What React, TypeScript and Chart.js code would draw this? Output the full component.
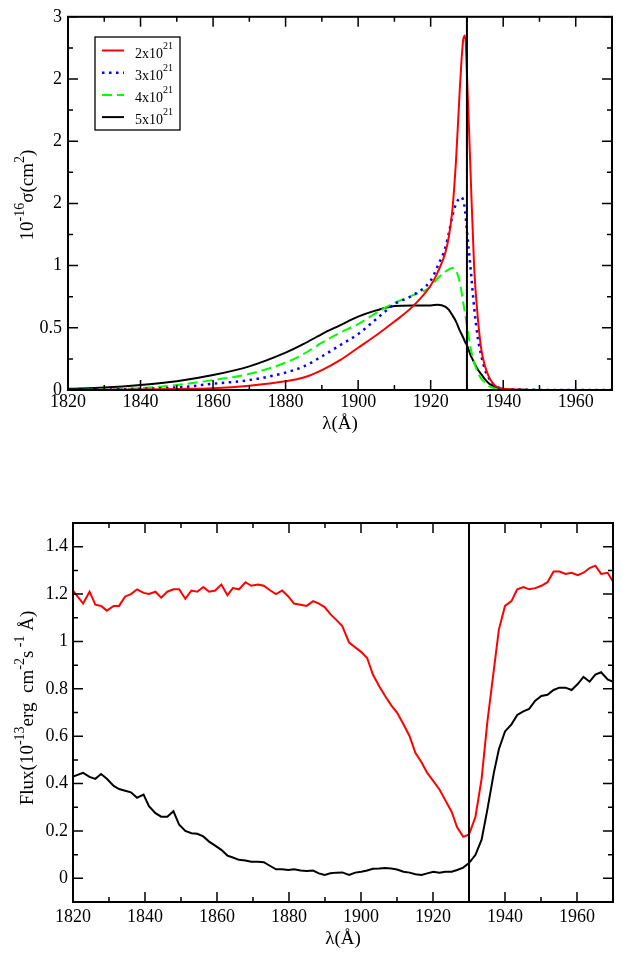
import { useEffect, useRef } from "react"
import { Chart, registerables } from "chart.js"

Chart.register(...registerables)

const SERIF = "'Liberation Serif', 'DejaVu Serif', serif"

// ---- top panel: cross section, 10^-16 cm^2 ----
const sigmaWavelength = [
  1820, 1830, 1840, 1850, 1860, 1870, 1880, 1885, 1890, 1895, 1900, 1905, 1910,
  1915, 1920, 1922, 1924, 1925, 1926, 1927, 1928, 1928.5, 1929, 1929.5, 1930,
  1931, 1932, 1933, 1934, 1935, 1936, 1937, 1938, 1940, 1945, 1950, 1960, 1970,
]
const sigma2e21 = [
  0, 0.002, 0.004, 0.008, 0.015, 0.035, 0.07, 0.1, 0.16, 0.24, 0.34, 0.44, 0.55,
  0.67, 0.84, 0.95, 1.1, 1.23, 1.45, 1.85, 2.4, 2.65, 2.82, 2.85, 2.55,
  1.75, 0.98, 0.58, 0.32, 0.19, 0.11, 0.06, 0.03, 0.01, 0.002, 0, 0, 0,
]
const sigma3e21 = [
  0, 0.003, 0.01, 0.02, 0.05, 0.08, 0.14, 0.19, 0.27, 0.36, 0.45, 0.57, 0.69,
  0.76, 0.88, 1.0, 1.14, 1.26, 1.4, 1.5, 1.54, 1.55, 1.52, 1.44, 1.28,
  0.98, 0.66, 0.42, 0.27, 0.16, 0.1, 0.05, 0.03, 0.01, 0.003, 0.001, 0, 0,
]
const sigma4e21 = [
  0, 0.005, 0.015, 0.04, 0.08, 0.13, 0.22, 0.29, 0.38, 0.46, 0.53, 0.62, 0.7,
  0.76, 0.83, 0.9, 0.95, 0.97, 0.98, 0.96, 0.87, 0.79, 0.7, 0.61, 0.52,
  0.34, 0.22, 0.14, 0.09, 0.06, 0.03, 0.02, 0.01, 0.005, 0.002, 0.001, 0, 0,
]
const sigma5e21 = [
  0.01, 0.02, 0.04, 0.07, 0.12, 0.19, 0.3, 0.37, 0.45, 0.52, 0.59, 0.64, 0.675,
  0.68, 0.68, 0.685, 0.67, 0.645, 0.6, 0.55, 0.48, 0.45, 0.42, 0.385, 0.36,
  0.28, 0.22, 0.165, 0.125, 0.085, 0.055, 0.035, 0.018, 0.008, 0.002, 0, 0, 0,
]
const columnLabels = ["2x10", "3x10", "4x10", "5x10"]
const columnExponent = "21"

const sigmaYTicks = [0, 0.5, 1, 1.5, 2, 2.5, 3]
const sigmaYTickLabels = ["0", "0.5", "1", "2", "2", "2", "3"]
const sigmaYMinor = [0.25, 0.75, 1.25, 1.75, 2.25, 2.75]

// ---- bottom panel: observed flux ----
const fluxWavelength = [
  1820, 1822.8, 1824.6, 1826.2, 1827.8, 1829.4, 1831.3, 1832.8, 1834.5, 1836.1,
  1837.8, 1839.6, 1841.1, 1842.9, 1844.5, 1846.2, 1847.9, 1849.5, 1851.2, 1852.9,
  1854.5, 1856.2, 1857.8, 1859.5, 1861.2, 1862.9, 1864.4, 1866.1, 1867.9, 1869.5,
  1871.4, 1873, 1874.8, 1876.4, 1878.1, 1879.8, 1881.4,
  1883.2, 1884.9, 1886.7, 1888.3, 1889.9, 1891.5, 1893.2, 1894.8, 1896.7, 1898.4,
  1900.1, 1901.7, 1903.3, 1905.1, 1906.7, 1908.4, 1910, 1911.8, 1913.5, 1915.1,
  1916.8, 1918.4, 1920.1, 1921.8, 1923.4, 1925.2, 1926.7, 1928.4, 1930, 1931.8,
  1933.5, 1935.1, 1936.9, 1938.3, 1940, 1941.8, 1943.4, 1945.1, 1946.7, 1948.4,
  1950.1, 1951.8, 1953.5, 1955.1, 1956.8, 1958.5, 1960.2, 1961.8, 1963.5, 1965.1,
  1966.7, 1968.5, 1969.9,
]
const fluxRed = [
  1.215, 1.16, 1.21, 1.155, 1.15, 1.13, 1.15, 1.15, 1.19, 1.2,
  1.22, 1.205, 1.2, 1.21, 1.185, 1.21, 1.22, 1.22, 1.18, 1.215,
  1.21, 1.23, 1.21, 1.215, 1.24, 1.195, 1.225, 1.22, 1.25, 1.235,
  1.24, 1.235, 1.215, 1.2, 1.215, 1.19, 1.16,
  1.155, 1.15, 1.17, 1.16, 1.145, 1.115, 1.09, 1.065, 0.995, 0.975,
  0.955, 0.93, 0.86, 0.81, 0.77, 0.73, 0.7, 0.65, 0.6, 0.53,
  0.49, 0.445, 0.41, 0.375, 0.33, 0.28, 0.215, 0.175, 0.185, 0.26,
  0.42, 0.66, 0.88, 1.05, 1.15, 1.17, 1.22, 1.23, 1.22, 1.225,
  1.235, 1.25, 1.295, 1.295, 1.285, 1.29, 1.28, 1.29, 1.31, 1.32,
  1.285, 1.29, 1.255,
]
const fluxBlack = [
  0.43, 0.445, 0.428, 0.42, 0.44, 0.42, 0.39, 0.377, 0.37, 0.363,
  0.34, 0.353, 0.305, 0.275, 0.26, 0.26, 0.283, 0.226, 0.2, 0.19,
  0.188, 0.177, 0.155, 0.138, 0.12, 0.096, 0.088, 0.078, 0.075, 0.07,
  0.07, 0.068, 0.052, 0.038, 0.038, 0.035, 0.038,
  0.033, 0.031, 0.033, 0.021, 0.014, 0.021, 0.024, 0.025, 0.014, 0.024,
  0.028, 0.033, 0.04, 0.041, 0.044, 0.041, 0.037, 0.028, 0.024, 0.017,
  0.014, 0.021, 0.028, 0.024, 0.028, 0.028, 0.035, 0.045, 0.064, 0.099,
  0.163, 0.29, 0.445, 0.545, 0.62, 0.65, 0.69, 0.705, 0.715, 0.75,
  0.77, 0.775, 0.795, 0.805, 0.805, 0.795, 0.82, 0.85, 0.83, 0.86,
  0.87, 0.84, 0.83,
]
const fluxYTicks = [0, 0.2, 0.4, 0.6, 0.8, 1, 1.2, 1.4]
const fluxYTickLabels = ["0", "0.2", "0.4", "0.6", "0.8", "1", "1.2", "1.4"]
const fluxYMinor = [0.1, 0.3, 0.5, 0.7, 0.9, 1.1, 1.3]

// ---- shared x axis ----
const xTicks = [1820, 1840, 1860, 1880, 1900, 1920, 1940, 1960]
const xMinor = [1830, 1850, 1870, 1890, 1910, 1930, 1950, 1970]
const edgeWavelength = 1930

type Piece = { t: string; sup?: boolean }

const sigmaTitle: Piece[] = [
  { t: "10" }, { t: "-16", sup: true }, { t: "σ(cm" }, { t: "2", sup: true }, { t: ")" },
]
const fluxTitle: Piece[] = [
  { t: "Flux(10" }, { t: "-13", sup: true }, { t: "erg  cm" }, { t: "-2", sup: true },
  { t: "s" }, { t: " -1", sup: true }, { t: " Å)" },
]

type FrameOpts = {
  yMajor: number[]
  yMinor: number[]
  yTitle: Piece[]
  yTitleX: number
  yTitleY: number
  xTitleY: number
  legend?: boolean
}

function drawPieces(ctx: CanvasRenderingContext2D, pieces: Piece[], size: number, supSize: number) {
  const w = pieces.map((p) => {
    ctx.font = `${p.sup ? supSize : size}px ${SERIF}`
    return ctx.measureText(p.t).width
  })
  let x = -w.reduce((a, b) => a + b, 0) / 2
  pieces.forEach((p, i) => {
    ctx.font = `${p.sup ? supSize : size}px ${SERIF}`
    ctx.fillText(p.t, x, p.sup ? -size * 0.5 : 0)
    x += w[i]
  })
}

function framePlugin(o: FrameOpts) {
  return {
    id: "frame",
    afterDraw(chart: Chart) {
      const { ctx, chartArea: a } = chart
      const xs = chart.scales.x
      const ys = chart.scales.y
      ctx.save()
      ctx.strokeStyle = "#000"
      ctx.fillStyle = "#000"
      ctx.lineWidth = 1.5
      ctx.beginPath()
      const tick = (vals: number[], len: number) => {
        vals.forEach((v) => {
          const px = xs.getPixelForValue(v)
          ctx.moveTo(px, a.bottom); ctx.lineTo(px, a.bottom - len)
          ctx.moveTo(px, a.top); ctx.lineTo(px, a.top + len)
        })
      }
      const ytick = (vals: number[], len: number) => {
        vals.forEach((v) => {
          const py = ys.getPixelForValue(v)
          ctx.moveTo(a.left, py); ctx.lineTo(a.left + len, py)
          ctx.moveTo(a.right, py); ctx.lineTo(a.right - len, py)
        })
      }
      tick(xTicks, 10)
      tick(xMinor, 5)
      ytick(o.yMajor, 10)
      ytick(o.yMinor, 5)
      ctx.stroke()

      ctx.lineWidth = 2
      ctx.strokeRect(a.left, a.top, a.right - a.left, a.bottom - a.top)
      const ex = xs.getPixelForValue(edgeWavelength)
      ctx.beginPath()
      ctx.moveTo(ex, a.top)
      ctx.lineTo(ex, a.bottom)
      ctx.stroke()

      // axis titles
      ctx.textBaseline = "alphabetic"
      ctx.textAlign = "left"
      ctx.save()
      ctx.translate((a.left + a.right) / 2, o.xTitleY)
      drawPieces(ctx, [{ t: "λ(Å)" }], 19, 13)
      ctx.restore()
      ctx.save()
      ctx.translate(o.yTitleX, o.yTitleY)
      ctx.rotate(-Math.PI / 2)
      drawPieces(ctx, o.yTitle, 19, 14)
      ctx.restore()

      if (o.legend) {
        const colors = ["#ff0000", "#0000ff", "#00ff00", "#000000"]
        const dashes = [[], [2.5, 4.5], [10, 5], []]
        ctx.lineWidth = 1.3
        ctx.strokeRect(95, 37, 85, 93)
        columnLabels.forEach((lab, i) => {
          const y = 50.5 + i * 22.2
          ctx.save()
          ctx.strokeStyle = colors[i]
          ctx.lineWidth = i === 1 ? 2.5 : 2
          ctx.setLineDash(dashes[i])
          ctx.beginPath()
          ctx.moveTo(102, y)
          ctx.lineTo(124, y)
          ctx.stroke()
          ctx.restore()
          ctx.font = `14px ${SERIF}`
          ctx.fillText(lab, 135, y + 7)
          const w = ctx.measureText(lab).width
          ctx.font = `10px ${SERIF}`
          ctx.fillText(columnExponent, 135 + w, y - 2)
        })
      }
      ctx.restore()
    },
  }
}

function axisOptions(
  min: number, max: number, ticks: number[], labels: string[], size: number, pad: number,
  horizontal: boolean,
) {
  return {
    type: "linear" as const,
    min,
    max,
    grid: { display: false, drawTicks: false },
    border: { display: false },
    afterBuildTicks: (s: any) => {
      s.ticks = ticks.map((v) => ({ value: v }))
    },
    afterFit: (s: any) => {
      if (horizontal) s.height = size
      else s.width = size
    },
    ticks: {
      autoSkip: false,
      maxRotation: 0,
      padding: pad,
      color: "#000",
      font: { family: SERIF, size: 18 },
      callback: (_v: any, i: number) => labels[i],
    },
  }
}

function Panel({ config, top, height }: { config: () => any; top: number; height: number }) {
  const canvasRef = useRef<HTMLCanvasElement>(null)
  const chartInstance = useRef<Chart | null>(null)

  useEffect(() => {
    if (!canvasRef.current) return
    if (chartInstance.current) chartInstance.current.destroy()
    chartInstance.current = new Chart(canvasRef.current, config())
    return () => {
      if (chartInstance.current) {
        chartInstance.current.destroy()
        chartInstance.current = null
      }
    }
  }, [config])

  return (
    <div style={{ position: "absolute", left: 0, top, width: 623, height }}>
      <canvas ref={canvasRef} />
    </div>
  )
}

const xLabels = xTicks.map(String)

function sigmaConfig() {
  const styles = [
    { data: sigma2e21, color: "#ff0000", dash: [] as number[], width: 2 },
    { data: sigma3e21, color: "#0000ff", dash: [2.5, 4.5], width: 2.5 },
    { data: sigma4e21, color: "#00ff00", dash: [10, 5], width: 2 },
    { data: sigma5e21, color: "#000000", dash: [] as number[], width: 2 },
  ]
  return {
    type: "line",
    data: {
      datasets: styles.map((s, i) => ({
        label: columnLabels[i] + columnExponent,
        data: sigmaWavelength.map((x, j) => ({ x, y: s.data[j] })),
        borderColor: s.color,
        borderWidth: s.width,
        borderDash: s.dash,
        pointRadius: 0,
        cubicInterpolationMode: "monotone",
        fill: false,
      })),
    },
    options: {
      animation: false,
      responsive: true,
      maintainAspectRatio: false,
      layout: { padding: { top: 9, right: 11, left: 0, bottom: 0 } },
      plugins: { legend: { display: false }, tooltip: { enabled: false } },
      scales: {
        x: axisOptions(1820, 1970, xTicks, xLabels, 50, 1, true),
        y: axisOptions(0, 3, sigmaYTicks, sigmaYTickLabels, 68, 6, false),
      },
    },
    plugins: [
      framePlugin({
        yMajor: sigmaYTicks, yMinor: sigmaYMinor, yTitle: sigmaTitle,
        yTitleX: 33, yTitleY: 195, xTitleY: 429, legend: true,
      }),
    ],
  }
}

function fluxConfig() {
  const series = [
    { data: fluxRed, color: "#ff0000" },
    { data: fluxBlack, color: "#000000" },
  ]
  return {
    type: "line",
    data: {
      datasets: series.map((s) => ({
        data: fluxWavelength.map((x, j) => ({ x, y: s.data[j] })),
        borderColor: s.color,
        borderWidth: 2,
        pointRadius: 0,
        tension: 0,
        fill: false,
      })),
    },
    options: {
      animation: false,
      responsive: true,
      maintainAspectRatio: false,
      layout: { padding: { top: 43, right: 10, left: 0, bottom: 0 } },
      plugins: { legend: { display: false }, tooltip: { enabled: false } },
      scales: {
        x: axisOptions(1820, 1970, xTicks, xLabels, 51, 4, true),
        y: axisOptions(-0.1, 1.5, fluxYTicks, fluxYTickLabels, 73, 5, false),
      },
    },
    plugins: [
      framePlugin({
        yMajor: fluxYTicks, yMinor: fluxYMinor, yTitle: fluxTitle,
        yTitleX: 33, yTitleY: 228, xTitleY: 464,
      }),
    ],
  }
}

export default function App() {
  return (
    <div style={{ position: "absolute", left: 0, top: 0, width: 623, height: 953, background: "#fff" }}>
      <Panel config={sigmaConfig} top={0} height={440} />
      <Panel config={fluxConfig} top={480} height={473} />
    </div>
  )
}
